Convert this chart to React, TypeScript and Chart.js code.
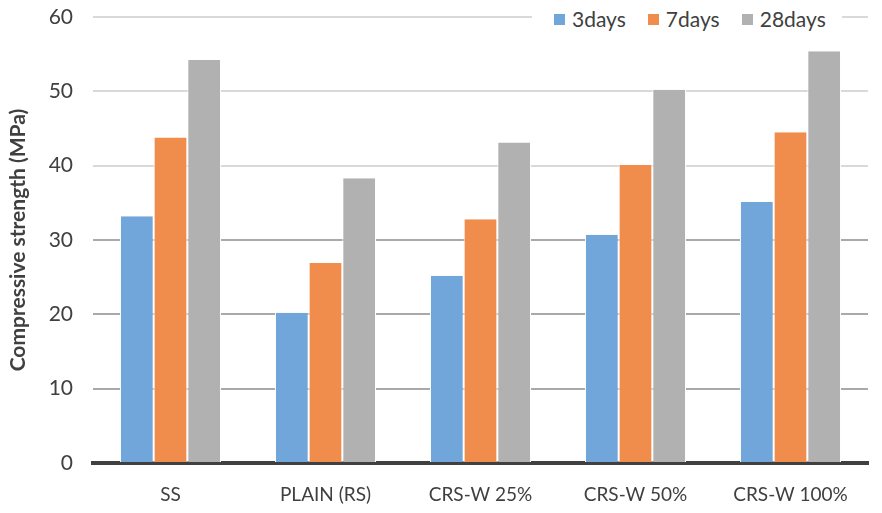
import React, { useEffect, useRef } from "react";
import { Chart, registerables } from "chart.js";

Chart.register(...registerables);

const categories = ["SS", "PLAIN (RS)", "CRS-W 25%", "CRS-W 50%", "CRS-W 100%"];
const seriesNames = ["3days", "7days", "28days"];
const days3 = [33.2, 20.2, 25.2, 30.7, 35.1];
const days7 = [43.8, 26.9, 32.8, 40.1, 44.5];
const days28 = [54.2, 38.3, 43.1, 50.2, 55.4];
const colors = ["#70a6d9", "#f08c4c", "#b1b1b1"];
const yTicks = [0, 10, 20, 30, 40, 50, 60];

const FONT = "Lato, 'Liberation Sans', sans-serif";

export default function App() {
  const ref = useRef<HTMLCanvasElement | null>(null);

  useEffect(() => {
    document.body.style.margin = "0";
    const ctx = ref.current!.getContext("2d")!;
    const values = [days3, days7, days28];
    const chart = new Chart(ctx, {
      type: "bar",
      data: {
        labels: categories,
        datasets: seriesNames.map((name, i) => ({
          label: name,
          data: values[i],
          backgroundColor: colors[i],
          borderColor: "#ffffff",
          borderWidth: { top: 0, bottom: 0, left: 1, right: 1 },
          borderSkipped: false,
          barPercentage: 1,
          categoryPercentage: 0.652,
        })),
      },
      options: {
        responsive: false,
        animation: false,
        devicePixelRatio: 1,
        layout: { padding: { top: 17, right: 14, bottom: 0, left: 0 } },
        plugins: {
          legend: { display: false },
          tooltip: { enabled: false },
        },
        scales: {
          x: {
            grid: { display: false, drawTicks: false },
            border: { display: true, color: "#404040", width: 4 },
            ticks: {
              color: "#404040",
              font: { family: FONT, size: 19 },
              padding: 20,
            },
            afterFit: (s: any) => {
              s.height = 50;
            },
          },
          y: {
            min: 0,
            max: 60,
            afterBuildTicks: (s: any) => {
              s.ticks = yTicks.map((v) => ({ value: v }));
            },
            grid: {
              drawTicks: false,
              lineWidth: 2,
              color: (c: any) => {
                const v = c.tick ? c.tick.value : 0;
                return v <= 30 ? "#a9a9a9" : "#d9d9d9";
              },
            },
            border: { display: false },
            ticks: {
              color: "#404040",
              font: { family: FONT, size: 21 },
              padding: 20,
            },
            title: {
              display: true,
              text: "Compressive strength (MPa)",
              color: "#404040",
              font: { family: FONT, size: 21, weight: "bold" },
              padding: { top: 6, bottom: 0 },
            },
            afterFit: (s: any) => {
              s.width = 93;
              s.paddingTop = 0;
              s.paddingBottom = 0;
            },
          },
        },
      },
    });
    return () => chart.destroy();
  }, []);

  const legendItem = (name: string, color: string) => (
    <div key={name} style={{ display: "flex", alignItems: "center" }}>
      <span
        style={{
          display: "inline-block",
          width: 11,
          height: 11,
          background: color,
          marginRight: 7,
        }}
      />
      <span style={{ fontFamily: FONT, fontSize: 21, color: "#404040", lineHeight: "24px" }}>{name}</span>
    </div>
  );

  return (
    <div style={{ position: "absolute", left: 0, top: 0, width: 882, height: 513, background: "#ffffff" }}>
      <canvas ref={ref} width={882} height={513} style={{ display: "block" }} />
      <div
        style={{
          position: "absolute",
          left: 532,
          top: 6,
          width: 310,
          height: 26,
          background: "#ffffff",
          display: "flex",
          alignItems: "center",
          justifyContent: "flex-start",
          gap: 22,
          paddingLeft: 22,
          boxSizing: "border-box",
        }}
      >
        {seriesNames.map((n, i) => legendItem(n, colors[i]))}
      </div>
    </div>
  );
}
